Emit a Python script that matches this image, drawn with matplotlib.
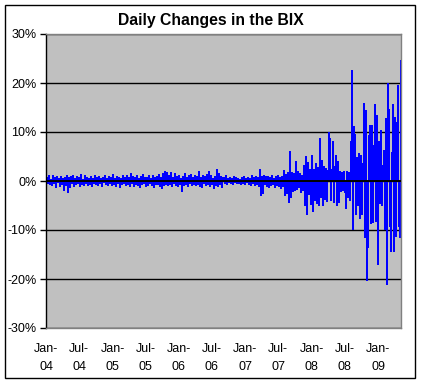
import matplotlib
matplotlib.use('Agg')
import matplotlib.pyplot as plt
import matplotlib.patches as mpatches
import pandas as pd

# ---------------- data ----------------
start_date = '2004-01-02'
end_date = '2009-05-06'

# daily % changes of the BIX (one bar per pixel column)
daily_change_pct = [
    # 2004 - 2006
    0.8, -0.6, 1.2, -0.9, 0.5, -1.1, 1.3, -0.7, 0.9, -1.4,
    1.0, -0.5, 0.7, -1.2, 1.1, -0.8, 0.6, -2.0, 0.9, -1.0,
    1.2, -2.4, 0.8, -1.5, 1.0, -0.7, 1.3, -1.2, 0.6, -0.9,
    1.1, -0.6, 0.8, -1.3, 1.4, -0.8, 0.5, -1.0, 1.2, -0.7,
    0.9, -1.1, 0.6, -0.9, 1.0, -1.2, 0.7, -0.6, 1.3, -0.8,
    0.8, -1.0, 1.1, -0.7, 0.6, -1.3, 0.9, -0.5, 1.2, -0.9,
    0.7, -1.1, 1.0, -0.6, 0.8, -1.0, 1.4, -0.8, 0.6, -1.2,
    1.1, -0.7, 0.9, -1.4, 0.7, -0.9, 1.2, -0.6, 0.8, -1.1,
    1.3, -0.8, 0.9, -1.2, 1.6, -0.7, 1.0, -1.3, 0.8, -0.9,
    1.2, -1.0, 0.7, -1.5, 1.1, -0.8, 1.4, -0.6, 0.9, -1.2,
    0.8, -1.1, 1.3, -0.7, 0.6, -1.0, 1.2, -1.4, 0.9, -0.8,
    1.1, -0.9, 1.5, -1.2, 0.8, -1.6, 1.7, -1.0, 2.0, -0.9,
    1.8, -1.1, 1.2, -0.8, 1.9, -1.3, 0.9, -0.7, 1.6, -1.0,
    1.0, -1.2, 1.3, -0.8, 0.7, -2.2, 1.1, -1.0, 1.7, -0.9,
    0.9, -1.3, 1.2, -0.7, 1.4, -1.1, 0.8, -0.9, 1.3, -1.0,
    1.1, -0.8, 2.0, -1.2, 0.9, -1.5, 1.3, -0.7, 1.0, -1.1,
    1.4, -0.9, 2.0, -1.3, 1.2, -0.8, 0.7, -1.6, 1.1, -1.0,
    2.5, -1.2, 1.6, -0.9, 1.0, -1.4, 0.8, -0.6, 1.2, -0.8,
    0.7, -0.5, 0.9, -0.7, 0.6, -0.8, 1.0, -0.5, 0.8, -0.6,
    0.6, -0.7, 0.5, -0.9, 0.8, -0.6, 1.1, -0.8, 0.7, -0.5,
    # 2007
    0.9, -0.8, 0.6, -1.0, 1.2, -0.7, 0.8, -1.1, 1.0, -0.9,
    0.8, -1.3, 2.4, -3.0, 1.0, -2.7, 1.3, -0.9, 1.1, -1.2,
    1.0, -1.4, 0.8, -1.1, 1.2, -0.9, 0.7, -1.5, 1.1, -1.0,
    1.2, -1.3, 0.9, -1.6, 1.0, -1.2, 2.2, -3.0, 1.5, -2.6,
    1.8, -4.4, 6.1, -3.4, 1.9, -2.2, 1.6, -2.0, 4.1, -1.8,
    2.0, -1.5, 1.7, -2.4, 1.3, -2.0, 3.3, -5.1, 5.1, -7.0,
    # 2008
    3.8, -2.8, 2.5, -4.9, 5.4, -6.3, 2.5, -4.0, 3.6, -4.6,
    2.8, -5.2, 8.7, -3.5, 4.3, -5.1, 3.0, -3.8, 2.6, -4.2,
    2.2, 10.0, 8.8, -4.0, 2.4, 8.2, -4.4, 3.0, 5.4, -5.0,
    4.0, -4.4, 2.0, -2.2, 1.8, -2.0, 2.1, -2.5, -5.8, 2.0,
    -3.4, 1.9, -4.0, 8.2, 22.7, -10.0, 11.2, 9.5, -7.0, 4.8,
    -5.2, 5.8, -7.8, 5.4, -7.0, 3.7, 16.0, -11.7, 14.5, -20.5,
    -13.7, 9.4, 11.5, -8.8, 11.4, -8.5, 7.3, 15.8, -8.3, 13.5,
    # 2009
    -17.2, 8.2, -4.6, 10.4, -5.0, 3.3, 6.3, -10.0, 12.8, -21.2,
    20.0, 14.6, -9.3, -14.4, 6.0, 15.8, -14.4, 13.0, -11.4, 12.0,
    19.6, -9.3, -11.6, 24.7, -8.0,
]

y_ticks = [-30, -20, -10, 0, 10, 20, 30]
y_tick_labels = ['-30%', '-20%', '-10%', '0%', '10%', '20%', '30%']

x_tick_dates = ['2004-01-01', '2004-07-01', '2005-01-01', '2005-07-01',
                '2006-01-01', '2006-07-01', '2007-01-01', '2007-07-01',
                '2008-01-01', '2008-07-01', '2009-01-01']
x_tick_labels = ['Jan-\n04', 'Jul-\n04', 'Jan-\n05', 'Jul-\n05', 'Jan-\n06',
                 'Jul-\n06', 'Jan-\n07', 'Jul-\n07', 'Jan-\n08', 'Jul-\n08',
                 'Jan-\n09']

title = 'Daily Changes in the BIX'

# ---------------- plot ----------------
plt.rcParams['font.family'] = ['Liberation Sans', 'DejaVu Sans']

W, H = 422, 380
fig = plt.figure(figsize=(W / 100, H / 100), dpi=100)
fig.patch.set_facecolor('white')

ax = fig.add_axes([46 / W, 1 - 328 / H, (401 - 46) / W, (328 - 34) / H])
ax.set_facecolor('#C0C0C0')

dates = pd.date_range(start_date, end_date, periods=len(daily_change_pct))
step = (dates[1] - dates[0]).total_seconds() / 86400.0
ax.bar(dates, daily_change_pct, width=2 * step, align='edge',
       color='#0000FF', linewidth=0, zorder=2)

ax.set_ylim(-30, 30)
ax.set_yticks(y_ticks)
ax.set_yticklabels(y_tick_labels)
ax.yaxis.grid(True, color='black', linewidth=1.0)
ax.set_axisbelow(True)
ax.axhline(0, color='black', linewidth=1.4, zorder=3)

ax.set_xlim(pd.Timestamp('2004-01-01'), pd.Timestamp('2009-05-07'))
ax.set_xticks(pd.to_datetime(x_tick_dates))
ax.set_xticklabels(x_tick_labels, linespacing=1.6)

ax.tick_params(axis='x', length=0, pad=11, labelsize=9, colors='black')
ax.tick_params(axis='y', length=4, width=1, pad=3, labelsize=9,
               direction='out', colors='black')

for side in ['top', 'right', 'bottom']:
    ax.spines[side].set_color('#808080')
    ax.spines[side].set_linewidth(1.0)
ax.spines['left'].set_color('black')
ax.spines['left'].set_linewidth(1.0)

# chart border
fig.patches.append(mpatches.Rectangle((5 / W, 2 / H), 410 / W, 373 / H,
                                      transform=fig.transFigure, fill=False,
                                      edgecolor='black', linewidth=1.0))

fig.text(211 / W, 1 - 20 / H, title, ha='center', va='center',
         fontsize=11.3, fontweight='bold')

fig.savefig('out.png', dpi=100)
